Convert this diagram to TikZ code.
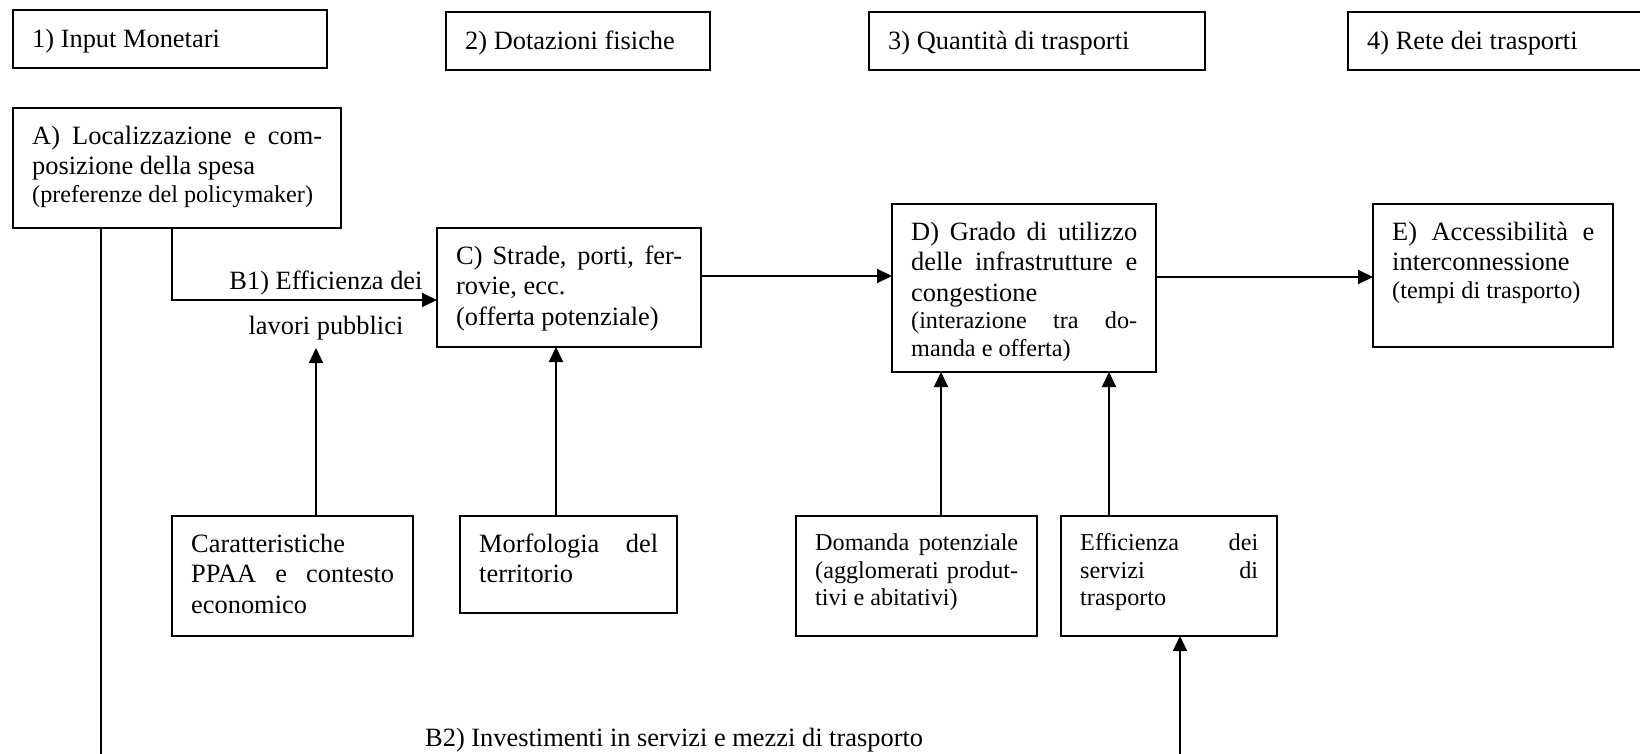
\documentclass[tikz,border=0pt]{standalone}
\usepackage{fontspec}
\setmainfont{Liberation Serif}
\usetikzlibrary{arrows.meta,calc}
\newcommand\mfs{\fontsize{26.4}{30.4}\selectfont}
\newcommand\sfs{\fontsize{24.2}{27.8}\selectfont}
\newcommand\fst{\rule{0pt}{25pt}}
\newcommand\parset{\parindent=0pt\tolerance=10000\hbadness=10000\hyphenpenalty=10000\exhyphenpenalty=10000\relax}
\begin{document}
\begin{tikzpicture}[x=1pt,y=-1pt,
  boxx/.style={draw, line width=1.9pt, inner sep=0pt, outer sep=0pt, anchor=north west},
  txt/.style={anchor=north west, inner sep=0pt, align=justify, font={\mfs\parset}},
  stxt/.style={anchor=north west, inner sep=0pt, align=justify, font={\sfs\parset}},
  lbl/.style={inner sep=0pt, font=\mfs},
  conn/.style={line width=1.9pt},
  arr/.style={line width=1.9pt, -{Triangle[length=15pt,width=14pt]}}]
\useasboundingbox (0,0) rectangle (1640,754);

% top header boxes
\node[boxx, minimum width=314pt, minimum height=58pt] (h1) at (13,10) {};
\node[lbl, anchor=base west] (h1t) at (32,48) {1) Input Monetari};
\node[boxx, minimum width=264pt, minimum height=58pt] (h2) at (446,12) {};
\node[lbl, anchor=base west] (h2t) at (465,50) {2) Dotazioni fisiche};
\node[boxx, minimum width=336pt, minimum height=58pt] (h3) at (869,12) {};
\node[lbl, anchor=base west] (h3t) at (888,50) {3) Quantità di trasporti};
\node[boxx, minimum width=310pt, minimum height=58pt] (h4) at (1348,12) {};
\node[lbl, anchor=base west] (h4t) at (1367,50) {4) Rete dei trasporti};

% A
\node[boxx, minimum width=328pt, minimum height=120pt] (A) at (13,108) {};
\node[txt, text width=290pt] (At) at ($(A.north west)+(19,11)$)
  {\fst A) Localizzazione e com-\linebreak posizione della spesa\par\sfs (preferenze del policymaker)\par};

% C
\node[boxx, minimum width=264pt, minimum height=119pt] (C) at (437,228) {};
\node[txt, text width=226pt] (Ct) at ($(C.north west)+(19,11)$)
  {\fst C) Strade, porti, fer-\linebreak rovie, ecc.\par (offerta potenziale)\par};

% D
\node[boxx, minimum width=264pt, minimum height=168pt] (D) at (892,204) {};
\node[txt, text width=226pt] (Dt) at ($(D.north west)+(19,11)$)
  {\fst D) Grado di utilizzo\linebreak delle infrastrutture e\linebreak congestione\par\sfs (interazione tra do-\linebreak manda e offerta)\par};

% E
\node[boxx, minimum width=240pt, minimum height=143pt] (E) at (1373,204) {};
\node[txt, text width=202pt] (Et) at ($(E.north west)+(19,11)$)
  {\fst E) Accessibilità e\linebreak interconnessione\par\sfs (tempi di trasporto)\par};

% bottom boxes
\node[boxx, minimum width=241pt, minimum height=120pt] (car) at (172,516) {};
\node[txt, text width=203pt] (cart) at ($(car.north west)+(19,11)$)
  {\fst Caratteristiche\hfil\break PPAA e contesto\linebreak economico\par};

\node[boxx, minimum width=217pt, minimum height=97pt] (mor) at (460,516) {};
\node[txt, text width=179pt] (mort) at ($(mor.north west)+(19,11)$)
  {\fst Morfologia del\linebreak territorio\par};

\node[boxx, minimum width=241pt, minimum height=120pt] (dom) at (796,516) {};
\node[stxt, text width=203pt] (domt) at ($(dom.north west)+(19,9)$)
  {\fst Domanda potenziale\linebreak (agglomerati produt-\linebreak tivi e abitativi)\par};

\node[boxx, minimum width=216pt, minimum height=120pt] (eff) at (1061,516) {};
\node[stxt, text width=178pt] (efft) at ($(eff.north west)+(19,9)$)
  {\fst Efficienza dei\linebreak servizi di\linebreak trasporto\par};

% labels
\node[lbl, anchor=base] (b1a) at (326,289) {B1) Efficienza dei};
\node[lbl, anchor=base] (b1b) at (326,334) {lavori pubblici};
\node[lbl, anchor=base west] (b2) at (425,746) {B2) Investimenti in servizi e mezzi di trasporto};

% free ends
\coordinate (bot1) at (101,760);
\coordinate (bot2) at (1180,760);
\coordinate (b1tip) at (316,348);

% connectors
\draw[conn] (101,0 |- A.south) -- (bot1);
\draw[arr] (172,0 |- A.south) |- (C.west |- 0,300);
\draw[arr] (316,0 |- car.north) -- (b1tip);
\draw[arr] (556,0 |- mor.north) -- (556,0 |- C.south);
\draw[arr] (C.east |- 0,276) -- (D.west |- 0,276);
\draw[arr] (D.east |- 0,277) -- (E.west |- 0,277);
\draw[arr] (941,0 |- dom.north) -- (941,0 |- D.south);
\draw[arr] (1109,0 |- eff.north) -- (1109,0 |- D.south);
\draw[arr] (bot2) -- (1180,0 |- eff.south);
\end{tikzpicture}
\end{document}
